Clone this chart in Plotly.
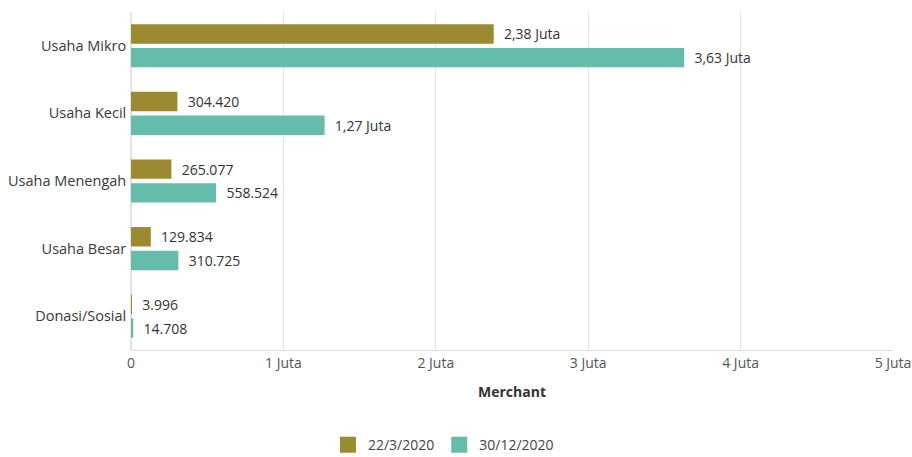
import plotly.graph_objects as go

categories = ["Usaha Mikro", "Usaha Kecil", "Usaha Menengah", "Usaha Besar", "Donasi/Sosial"]
series_names = ["22/3/2020", "30/12/2020"]
values_mar = [2380000, 304420, 265077, 129834, 3996]
values_dec = [3630000, 1270000, 558524, 310725, 14708]
labels_mar = ["2,38 Juta", "304.420", "265.077", "129.834", "3.996"]
labels_dec = ["3,63 Juta", "1,27 Juta", "558.524", "310.725", "14.708"]
tick_vals = [0, 1e6, 2e6, 3e6, 4e6, 5e6]
tick_text = ["0", "1 Juta", "2 Juta", "3 Juta", "4 Juta", "5 Juta"]

colors = ["#9C8A30", "#66BCAA"]
font_family = "Segoe UI, Open Sans, Noto Sans, sans-serif"

fig = go.Figure()
for name, vals, labs, col in [
    (series_names[0], values_mar, labels_mar, colors[0]),
    (series_names[1], values_dec, labels_dec, colors[1]),
]:
    fig.add_trace(go.Bar(
        y=categories, x=vals, name=name, orientation="h",
        marker=dict(color=col, line=dict(width=0)),
        text=["&nbsp;&nbsp;" + t for t in labs], textposition="outside",
        textfont=dict(size=14, color="#333333", family=font_family),
        cliponaxis=False, showlegend=False,
    ))
    # legend entry with larger square swatch
    fig.add_trace(go.Scatter(
        x=[None], y=[None], mode="markers", name=name,
        marker=dict(symbol="square", size=17, color=col),
        showlegend=True,
    ))

fig.update_layout(
    width=912, height=457,
    barmode="group", bargap=0.3, bargroupgap=0.18,
    margin=dict(l=131, r=19, t=12, b=107),
    plot_bgcolor="white", paper_bgcolor="white",
    font=dict(family=font_family, size=14, color="#444444"),
    showlegend=True,
    legend=dict(orientation="h", x=0.41, xanchor="center", yref="container",
                y=0.026, yanchor="middle", itemsizing="trace",
                font=dict(size=14, color="#444444"), traceorder="normal"),
    xaxis=dict(
        range=[0, 5e6], tickvals=tick_vals, ticktext=tick_text,
        showgrid=True, gridcolor="#e3e3e3", gridwidth=1,
        zeroline=True, zerolinecolor="#e3e3e3",
        showline=True, linecolor="#dddddd",
        tickfont=dict(size=14, color="#555555"),
        title=dict(text="<b>Merchant</b>", font=dict(size=14, color="#333333"), standoff=16),
        automargin=False,
    ),
    yaxis=dict(
        autorange="reversed", showgrid=False,
        tickfont=dict(size=14.5, color="#3a3a3a"), ticksuffix=" ",
        showline=False, automargin=False,
    ),
)

fig.write_html("out.html")
